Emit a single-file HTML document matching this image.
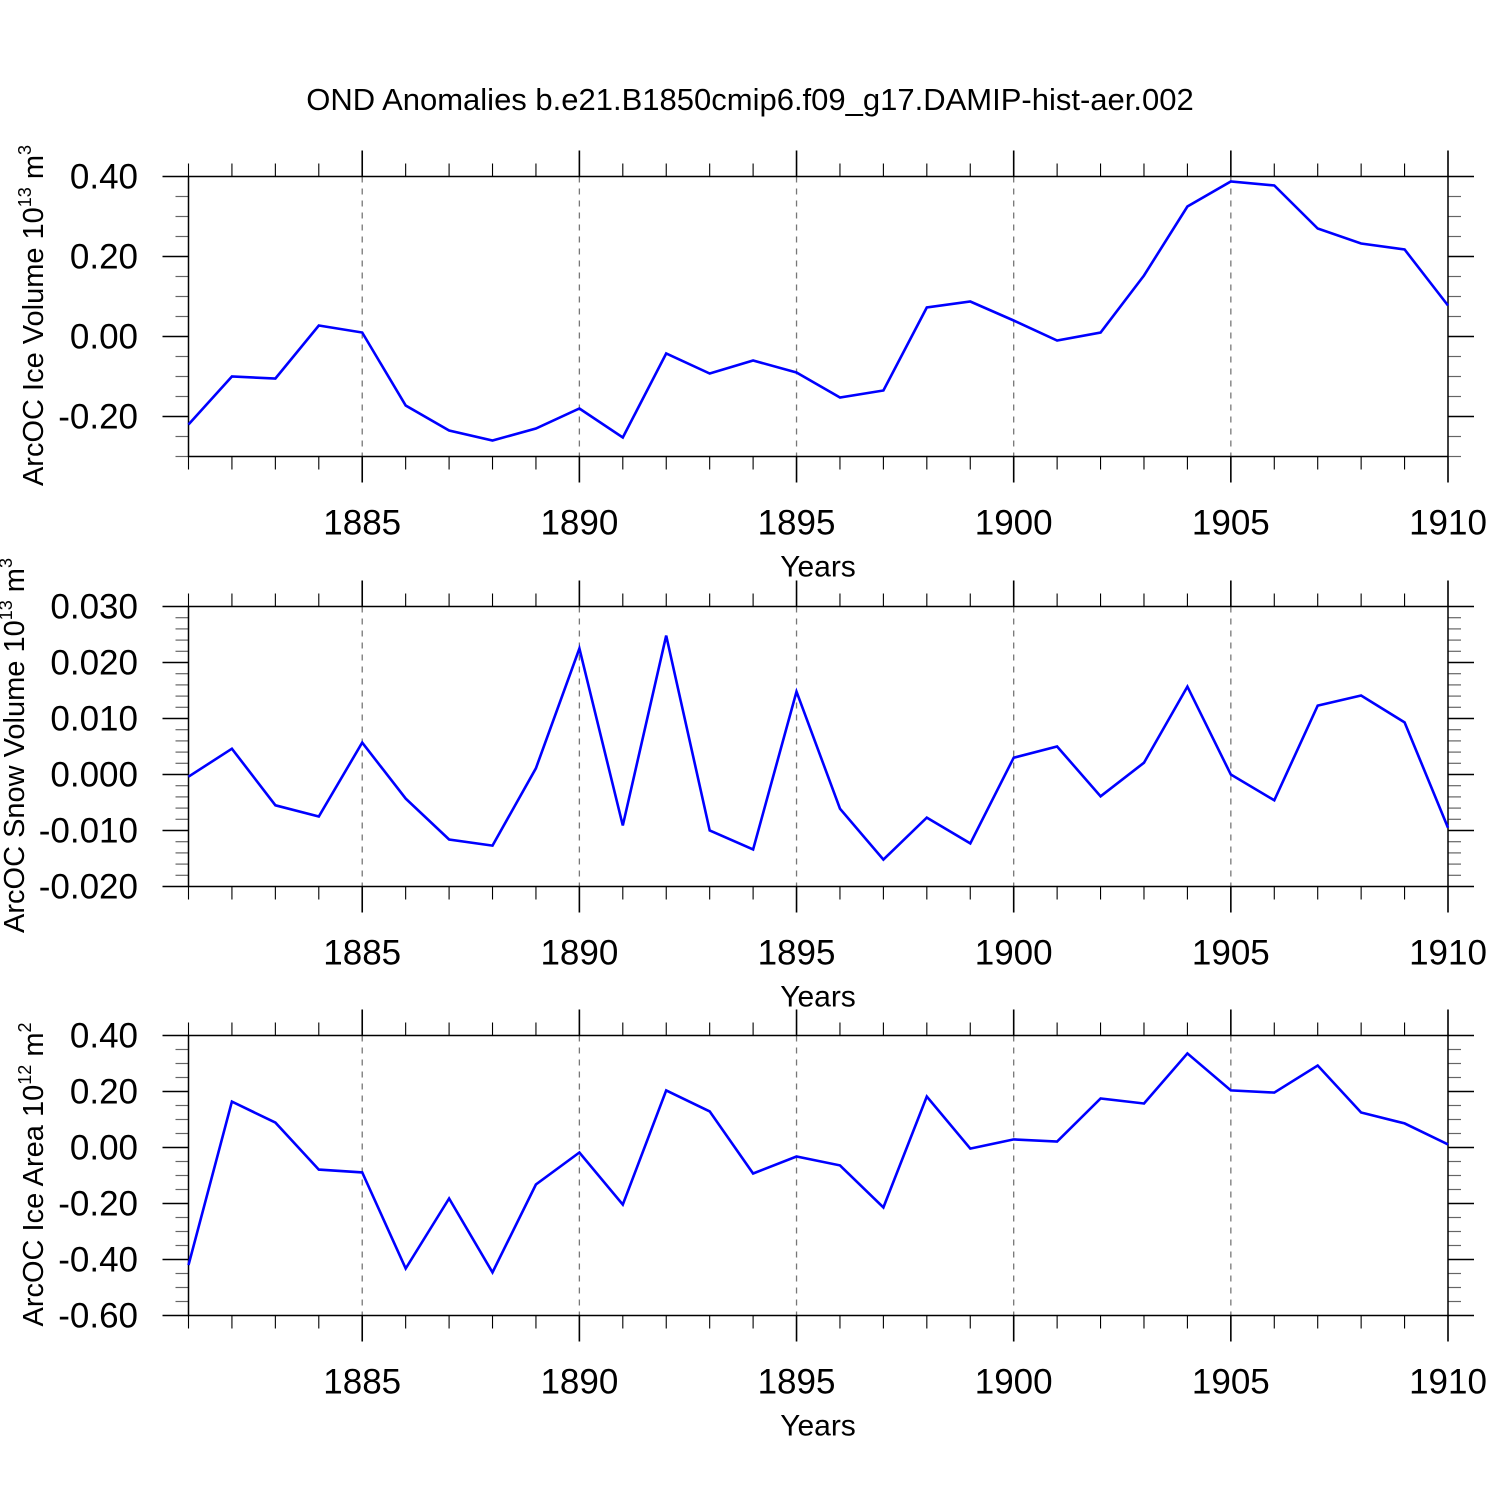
<!DOCTYPE html>
<html><head><meta charset="utf-8"><style>
html,body{margin:0;padding:0;background:#fff;}
svg text{font-family:"Liberation Sans",sans-serif;fill:#000;}
</style></head><body>
<svg id="chart" width="1500" height="1500" xmlns="http://www.w3.org/2000/svg">
<text x="750" y="110" font-size="31" text-anchor="middle">OND Anomalies b.e21.B1850cmip6.f09_g17.DAMIP-hist-aer.002</text>
</svg>
<script>
const years = [];
for (let y = 1881; y <= 1910; y++) years.push(y);
const xTicks = [1885, 1890, 1895, 1900, 1905, 1910];
const iceVolume = [-0.22,-0.10,-0.105,0.0275,0.01,-0.1725,-0.235,-0.26,-0.23,-0.18,-0.2525,-0.0425,-0.0925,-0.06,-0.09,-0.1525,-0.135,0.0725,0.0875,0.04,-0.01,0.01,0.1525,0.325,0.3875,0.3775,0.27,0.2325,0.2175,0.0775];
const snowVolume = [-0.0004,0.0046,-0.0055,-0.0075,0.0057,-0.0043,-0.0116,-0.0127,0.0011,0.0225,-0.0091,0.0248,-0.0100,-0.0134,0.0148,-0.0061,-0.0152,-0.0077,-0.0123,0.0030,0.0050,-0.0039,0.0021,0.0157,0.0,-0.0046,0.0123,0.0141,0.0093,-0.0095];
const iceArea = [-0.42,0.164,0.089,-0.079,-0.089,-0.432,-0.182,-0.446,-0.132,-0.018,-0.204,0.204,0.129,-0.093,-0.032,-0.064,-0.214,0.182,-0.004,0.029,0.021,0.175,0.157,0.336,0.204,0.196,0.293,0.125,0.086,0.011];
const yTicks1 = ["0.40","0.20","0.00","-0.20"];
const yTicks2 = ["0.030","0.020","0.010","0.000","-0.010","-0.020"];
const yTicks3 = ["0.40","0.20","0.00","-0.20","-0.40","-0.60"];

const NS = "http://www.w3.org/2000/svg";
const svg = document.getElementById("chart");
function mk(tag, attrs, parent) {
  const e = document.createElementNS(NS, tag);
  for (const k in attrs) e.setAttribute(k, attrs[k]);
  (parent || svg).appendChild(e);
  return e;
}
const X0 = 188.5, X1 = 1448, YMIN = 1881, YMAX = 1910;
function xs(v) { return X0 + (v - YMIN) / (YMAX - YMIN) * (X1 - X0); }

const panels = [
  {name:"ice-volume", top:176.5, bot:456.5, vmax:0.40, vmin:-0.30, major:0.2, minor:0.05, ticks:yTicks1, data:iceVolume, label:"ArcOC Ice Volume 10", sup:"13", unit:" m", usup:"3", tx:43},
  {name:"snow-volume", top:606.5, bot:886.5, vmax:0.030, vmin:-0.020, major:0.01, minor:0.002, ticks:yTicks2, data:snowVolume, label:"ArcOC Snow Volume 10", sup:"13", unit:" m", usup:"3", tx:24},
  {name:"ice-area", top:1035.5, bot:1315.5, vmax:0.40, vmin:-0.60, major:0.2, minor:0.05, ticks:yTicks3, data:iceArea, label:"ArcOC Ice Area 10", sup:"12", unit:" m", usup:"2", tx:43}
];

panels.forEach(p => {
  const g = mk("g", {});
  
  
  const ys = v => p.top + (p.vmax - v) / (p.vmax - p.vmin) * (p.bot - p.top);
  xTicks.forEach(t => {
    if (t === YMAX) return;
    const l = mk("line", {x1:xs(t), x2:xs(t), y1:p.top, y2:p.bot, stroke:"#777", "stroke-width":1.3, "stroke-dasharray":"6,6"}, g);
    
    
  });
  years.forEach(yr => {
    const maj = xTicks.includes(yr);
    const len = maj ? 26 : 13;
    mk("line", {x1:xs(yr), x2:xs(yr), y1:p.top, y2:p.top - len, stroke:"#000", "stroke-width":maj?1.6:1.1}, g);
    mk("line", {x1:xs(yr), x2:xs(yr), y1:p.bot, y2:p.bot + len, stroke:"#000", "stroke-width":maj?1.6:1.1}, g);
  });
  const nMin = Math.round((p.vmax - p.vmin) / p.minor);
  for (let i = 0; i <= nMin; i++) {
    const v = p.vmax - i * p.minor;
    const r = Math.abs(v / p.major - Math.round(v / p.major)) < 1e-6;
    const len = r ? 26 : 13;
    const y = ys(v);
    mk("line", {x1:X0, x2:X0 - len, y1:y, y2:y, stroke:r?"#000":"#666", "stroke-width":r?1.6:1.2}, g);
    mk("line", {x1:X1, x2:X1 + len, y1:y, y2:y, stroke:r?"#000":"#666", "stroke-width":r?1.6:1.2}, g);
  }
  const fr = mk("rect", {x:X0, y:p.top, width:X1 - X0, height:p.bot - p.top, fill:"none", stroke:"#000", "stroke-width":1.5}, g);
  
  
  p.ticks.forEach(t => {
    const tx = mk("text", {x:138, y:ys(parseFloat(t)) + 12, "font-size":35, "text-anchor":"end"}, g);
    tx.textContent = t;
    
    
  });
  xTicks.forEach(t => {
    const tx = mk("text", {x:xs(t), y:p.bot + 78, "font-size":35, "text-anchor":"middle"}, g);
    tx.textContent = t;
    
    
  });
  const xt = mk("text", {x:818, y:p.bot + 120, "font-size":30, "text-anchor":"middle"}, g);
  xt.textContent = "Years";
  
  
  const cy = (p.top + p.bot) / 2 - 1;
  const yt = mk("text", {x:0, y:0, "font-size":29, "text-anchor":"middle", transform:`translate(${p.tx},${cy}) rotate(-90)`}, g);
  
  
  yt.appendChild(document.createTextNode(p.label));
  const s1 = mk("tspan", {"font-size":18, dy:-12}, yt); s1.textContent = p.sup;
  const s2 = mk("tspan", {dy:12}, yt); s2.textContent = p.unit;
  const s3 = mk("tspan", {"font-size":18, dy:-12}, yt); s3.textContent = p.usup;
  const pts = p.data.map((v, i) => xs(years[i]).toFixed(1) + "," + ys(v).toFixed(1)).join(" ");
  const pl = mk("polyline", {points:pts, fill:"none", stroke:"#0000ff", "stroke-width":2.6, "stroke-linejoin":"miter"}, g);
  
  
});
</script>
</body></html>
